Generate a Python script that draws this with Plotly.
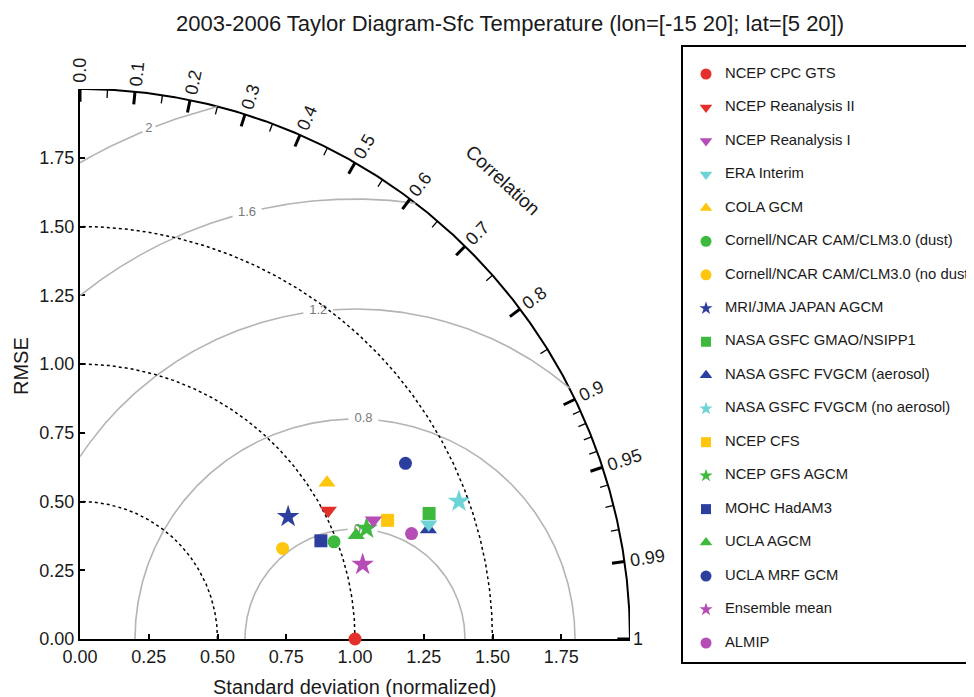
import numpy as np
import plotly.graph_objects as go

# ---------------- data ----------------
models = [
    "NCEP CPC GTS", "NCEP Reanalysis II", "NCEP Reanalysis I", "ERA Interim",
    "COLA GCM", "Cornell/NCAR CAM/CLM3.0 (dust)", "Cornell/NCAR CAM/CLM3.0 (no dust)",
    "MRI/JMA JAPAN AGCM", "NASA GSFC GMAO/NSIPP1", "NASA GSFC FVGCM (aerosol)",
    "NASA GSFC FVGCM (no aerosol)", "NCEP CFS", "NCEP GFS AGCM", "MOHC HadAM3",
    "UCLA AGCM", "UCLA MRF GCM", "Ensemble mean", "ALMIP",
]
std_norm = [1.000, 1.017, 1.151, 1.335, 1.063, 0.989, 0.807, 0.878, 1.349,
            1.328, 1.466, 1.199, 1.117, 0.946, 1.073, 1.345, 1.063, 1.265]
correlation = [1.000, 0.888, 0.927, 0.950, 0.845, 0.934, 0.913, 0.862, 0.941,
               0.954, 0.940, 0.933, 0.933, 0.926, 0.936, 0.880, 0.967, 0.953]

corr_major = [0.0, 0.1, 0.2, 0.3, 0.4, 0.5, 0.6, 0.7, 0.8, 0.9, 0.95, 0.99, 1.0]
corr_major_labels = ["0.0", "0.1", "0.2", "0.3", "0.4", "0.5", "0.6", "0.7",
                     "0.8", "0.9", "0.95", "0.99", "1"]
corr_minor = [0.05, 0.15, 0.25, 0.35, 0.45, 0.55, 0.65, 0.75, 0.85,
              0.91, 0.92, 0.93, 0.94, 0.96, 0.97, 0.98]
std_arcs = [0.5, 1.0, 1.5]
rmse_levels = [0.4, 0.8, 1.2, 1.6, 2.0]
rmse_labels = ["0.4", "0.8", "1.2", "1.6", "2"]
rmse_label_angle = [86.0, 87.8, 96.4, 104.2, 112.0]   # degrees around (1,0)
axis_ticks = [0.0, 0.25, 0.5, 0.75, 1.0, 1.25, 1.5, 1.75]
axis_ticklabels = ["0.00", "0.25", "0.50", "0.75", "1.00", "1.25", "1.50", "1.75"]
std_max = 2.0

# ---------------- styles ----------------
RED, PURPLE, CYAN = "#e3302a", "#b64db6", "#6dd3d6"
YELLOW, GREEN, BLUE = "#fec60d", "#3dba3d", "#2c3f9e"
colors = [RED, RED, PURPLE, CYAN, YELLOW, GREEN, YELLOW, BLUE, GREEN, BLUE,
          CYAN, YELLOW, GREEN, BLUE, GREEN, BLUE, PURPLE, PURPLE]
symbols = ["circle", "triangle-down", "triangle-down", "triangle-down", "triangle-up",
           "circle", "circle", "star", "square", "triangle-up", "star", "square",
           "star", "square", "triangle-up", "circle", "star", "circle"]
size_of = {"circle": 13, "triangle-down": 15, "triangle-up": 15, "square": 13, "star": 17}
leg_size_of = {"circle": 11, "triangle-down": 11, "triangle-up": 11, "square": 10, "star": 10}
FONT = "Liberation Sans, Arial, sans-serif"
TXT = "#1a1a1a"
GREY = "#b4b4b4"

# ---------------- page geometry (page px; body has an 8px margin) ----------------
PAGE_OFF = 8
W, H = 974 - PAGE_OFF, 697 - PAGE_OFF
PX_L, PX_R = 80, 972          # paper area in page px
PX_T, PX_B = 47, 662
PW, PH = PX_R - PX_L, PX_B - PX_T
PLOT_L, PLOT_R, PLOT_T, PLOT_B = 80, 630, 89, 639
LEG_L, LEG_R = 683, 972
UNIT = (PLOT_R - PLOT_L) / std_max   # px per data unit

def px2paper_x(px):
    return (px - PX_L) / PW

def px2paper_y(py):
    return (PX_B - py) / PH

def data2paper(x, y):
    return px2paper_x(PLOT_L + x * UNIT), px2paper_y(PLOT_B - y * UNIT)

fig = go.Figure()

# outer correlation arc
th = np.linspace(0, np.pi / 2, 400)
fig.add_trace(go.Scatter(x=std_max * np.cos(th), y=std_max * np.sin(th), mode="lines",
                         line=dict(color="black", width=2), showlegend=False, hoverinfo="skip"))

# RMSE arcs centred on (1,0), with gaps for labels
for R, lab, ang in zip(rmse_levels, rmse_labels, rmse_label_angle):
    if R + 1 <= std_max:
        p0 = 0.0
    else:
        p0 = np.arccos((std_max**2 - 1 - R**2) / (2 * R))
    p1 = np.arccos(-1.0 / R) if R > 1 else np.pi
    gap = (len(lab) * 4.0 + 3.0) / (R * UNIT)
    a = np.radians(ang)
    xs, ys = [], []
    for s, e in [(p0, a - gap), (a + gap, p1)]:
        if e > s:
            pp = np.linspace(s, e, 300)
            xs += list(1 + R * np.cos(pp)) + [None]
            ys += list(R * np.sin(pp)) + [None]
    fig.add_trace(go.Scatter(x=xs, y=ys, mode="lines", line=dict(color=GREY, width=1.6),
                             showlegend=False, hoverinfo="skip"))
    fig.add_trace(go.Scatter(x=[1 + R * np.cos(a)], y=[R * np.sin(a)], mode="text",
                             text=[lab], textposition="middle center",
                             textfont=dict(family=FONT, size=13, color="#7a7a7a"),
                             showlegend=False, hoverinfo="skip"))

# dotted std arcs
for s in std_arcs:
    fig.add_trace(go.Scatter(x=s * np.cos(th), y=s * np.sin(th), mode="lines",
                             line=dict(color="black", width=1.5, dash="dot"),
                             showlegend=False, hoverinfo="skip"))

# correlation ticks
def tick_segments(vals, length):
    xs, ys = [], []
    for c in vals:
        t = np.arccos(c)
        xs += [std_max * np.cos(t), (std_max - length) * np.cos(t), None]
        ys += [std_max * np.sin(t), (std_max - length) * np.sin(t), None]
    return xs, ys

mx, my = tick_segments(corr_major, 0.046)
fig.add_trace(go.Scatter(x=mx, y=my, mode="lines", line=dict(color="black", width=3),
                         showlegend=False, hoverinfo="skip"))
nx, ny = tick_segments(corr_minor, 0.03)
fig.add_trace(go.Scatter(x=nx, y=ny, mode="lines", line=dict(color="black", width=1.3),
                         showlegend=False, hoverinfo="skip"))

# data points (drawn in reverse order)
for i in reversed(range(len(models))):
    c = correlation[i]
    s = std_norm[i]
    fig.add_trace(go.Scatter(
        x=[s * c], y=[s * np.sqrt(max(0.0, 1 - c * c))], mode="markers", name=models[i],
        marker=dict(symbol=symbols[i], color=colors[i], size=size_of[symbols[i]],
                    line=dict(width=0), opacity=1),
        showlegend=False, cliponaxis=False))

# legend panel (second subplot, x in px from box left, y = entry index)
idx = list(range(len(models)))
fig.add_trace(go.Scatter(
    x=[23] * len(models), y=idx, mode="markers", xaxis="x2", yaxis="y2",
    marker=dict(symbol=symbols, color=colors, size=[leg_size_of[s] for s in symbols],
                line=dict(width=0), opacity=1),
    showlegend=False, hoverinfo="skip", cliponaxis=False))
fig.add_trace(go.Scatter(
    x=[42] * len(models), y=idx, mode="text", xaxis="x2", yaxis="y2",
    text=models, textposition="middle right",
    textfont=dict(family=FONT, size=14.8, color=TXT),
    showlegend=False, hoverinfo="skip", cliponaxis=False))

first_y, step = 74, (643 - 74) / (len(models) - 1)
y2_range = [(len(models) - 1) + (662 - 643) / step, -(first_y - 47) / step]

annotations = []
for c, lab in zip(corr_major, corr_major_labels):
    t = np.arccos(c)
    r = 2.012 + 0.018 * len(lab)
    px_, py_ = data2paper(r * np.cos(t), r * np.sin(t))
    annotations.append(dict(x=px_, y=py_, xref="paper", yref="paper",
                            text=lab, showarrow=False, textangle=-np.degrees(t),
                            xanchor="center", yanchor="middle",
                            font=dict(family=FONT, size=18, color=TXT)))
tc = np.radians(47.3)
px_, py_ = data2paper(2.268 * np.cos(tc), 2.268 * np.sin(tc))
annotations.append(dict(x=px_, y=py_, xref="paper", yref="paper",
                        text="Correlation", showarrow=False, textangle=90 - 47.3,
                        xanchor="center", yanchor="middle",
                        font=dict(family=FONT, size=19, color=TXT)))
annotations.append(dict(x=px2paper_x(355), y=px2paper_y(687), xref="paper", yref="paper",
                        text="Standard deviation (normalized)", showarrow=False,
                        xanchor="center", yanchor="middle",
                        font=dict(family=FONT, size=20, color=TXT)))
annotations.append(dict(x=px2paper_x(21), y=px2paper_y(366), xref="paper", yref="paper",
                        text="RMSE", showarrow=False, textangle=-90,
                        xanchor="center", yanchor="middle",
                        font=dict(family=FONT, size=20, color=TXT)))

axis_common = dict(range=[0, std_max], tickvals=axis_ticks, ticktext=axis_ticklabels,
                   ticks="inside", ticklen=5, tickwidth=1.5, tickcolor="black",
                   showline=True, linecolor="black", linewidth=2, showgrid=False,
                   zeroline=False, layer="below traces",
                   tickfont=dict(family=FONT, size=18, color=TXT), fixedrange=True)

leg_axis = dict(showline=True, mirror=True, linecolor="black", linewidth=2,
                showgrid=False, zeroline=False, showticklabels=False, ticks="",
                fixedrange=True)

fig.update_layout(
    width=W, height=H,
    margin=dict(l=PX_L - PAGE_OFF, r=W - (PX_R - PAGE_OFF), t=PX_T - PAGE_OFF,
                b=H - (PX_B - PAGE_OFF), autoexpand=False),
    paper_bgcolor="white", plot_bgcolor="white",
    xaxis=dict(axis_common, domain=[px2paper_x(PLOT_L), px2paper_x(PLOT_R)]),
    yaxis=dict(axis_common, domain=[px2paper_y(PLOT_B), px2paper_y(PLOT_T)]),
    xaxis2=dict(leg_axis, domain=[px2paper_x(LEG_L), px2paper_x(LEG_R)],
                range=[0, LEG_R - LEG_L], anchor="y2"),
    yaxis2=dict(leg_axis, domain=[0, 1], range=y2_range, anchor="x2"),
    title=dict(text="2003-2006 Taylor Diagram-Sfc Temperature (lon=[-15 20]; lat=[5 20])",
               x=(510 - PAGE_OFF) / W, xref="container", xanchor="center",
               y=1 - (23 - PAGE_OFF) / H, yref="container", yanchor="middle",
               font=dict(family=FONT, size=22, color=TXT)),
    annotations=annotations,
    showlegend=False,
)

fig.write_html("out.html")
